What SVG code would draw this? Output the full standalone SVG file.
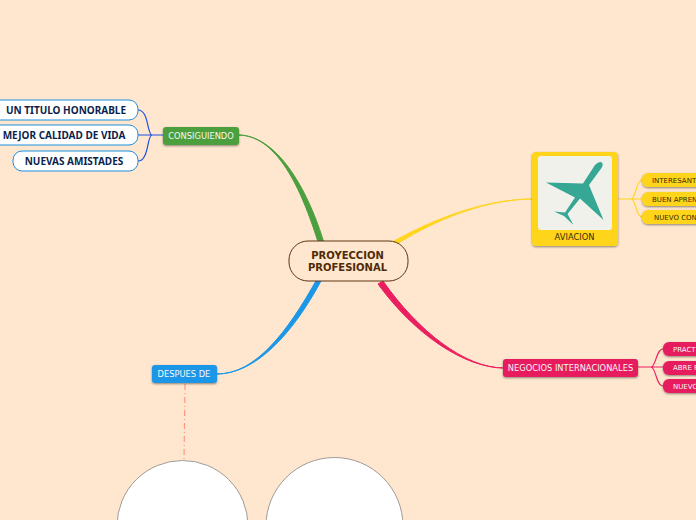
<svg xmlns="http://www.w3.org/2000/svg" width="696" height="520" viewBox="0 0 696 520">
<style>
.m{font-family:"DejaVu Sans",sans-serif;font-size:8.300px;text-anchor:middle}
.w{fill:#f6f6f6}
.s{font-size:7px;fill:#3a2a00;text-anchor:start}
.p{font-size:7px;fill:#f6f6f6;text-anchor:start}
.l{font-family:"Noto Sans",sans-serif;font-weight:700;font-size:10px;fill:#0b1f4d;text-anchor:middle}
.cn{font-family:"DejaVu Sans",sans-serif;font-weight:700;font-size:10px;fill:#4f2a06;text-anchor:middle}
.lf{fill:#fff;stroke:#1a8fe0;stroke-width:1}
.t{fill:none;stroke-width:1.200}
.b{stroke-width:1;stroke-linejoin:round}
</style>
<defs><filter id="sh" x="-10%" y="-15%" width="120%" height="140%"><feDropShadow dx="0" dy="1" stdDeviation="0.8" flood-color="#000" flood-opacity=".45"/></filter></defs>
<rect width="696" height="520" fill="#ffe7cf"/>
<g id="connectors">
<path class="b" d="M324 243C310 196 280 136 239 135C280 136 304 197 319 245Z" fill="#4b9f3e" stroke="#4b9f3e"/>
<path class="b" d="M397 244C440 217 490 199 533 199C490 199 441 215 394 241Z" fill="#ffd51e" stroke="#ffd51e"/>
<path class="b" d="M383 281C418 331 465 368 504 368C465 368 415 335 378 284Z" fill="#eb1f60" stroke="#eb1f60"/>
<path class="b" d="M321 281C292 335 255 374 217 374C255 374 287 333 317 279Z" fill="#1b97e8" stroke="#1b97e8"/>
<path class="t" stroke="#1f4fe0" d="M163 135H138M152 135C147 135 149 110 138 110M152 135C147 135 149 161 138 161"/>
<path class="t" stroke="#ffd51e" d="M618 199H641M631 199C636 199 636 180 642 180M631 199C636 199 636 217 642 217"/>
<path class="t" stroke="#eb1f60" d="M638 367H663M651 367C656 367 656 349 663 349M651 367C656 367 656 386 663 386"/>
<path d="M185 384L184 461" stroke="#ff9684" stroke-width="1.200" stroke-dasharray="6 3 1 3" fill="none"/>
</g>
<g id="n-central"><rect x="289" y="241" width="119" height="40" rx="19" fill="#ffe7cf" stroke="#5c3310" stroke-width="1"/><text class="cn" x="347.500" y="259">PROYECCION</text><text class="cn" x="347.500" y="271">PROFESIONAL</text></g>
<g id="n-consiguiendo"><rect x="163" y="127" width="76" height="18" rx="3" fill="#4b9f3e" filter="url(#sh)"/><text class="m w" x="201" y="139">CONSIGUIENDO</text></g>
<g id="n-titulo"><rect x="-10" y="100" width="148" height="20" rx="9" class="lf"/><text class="l" x="66" y="114">UN TITULO HONORABLE</text></g>
<g id="n-calidad"><rect x="-10" y="125" width="148" height="20" rx="9" class="lf"/><text class="l" x="64" y="139">MEJOR CALIDAD DE VIDA</text></g>
<g id="n-amistades"><rect x="13" y="151" width="125" height="20" rx="9" class="lf"/><text class="l" x="74" y="165">NUEVAS AMISTADES</text></g>
<g id="n-aviacion"><rect x="532" y="152" width="86" height="94" rx="4" fill="#ffd51e" filter="url(#sh)"/><rect x="538" y="156" width="74" height="74" rx="3" fill="#f1f1ec"/>
<path d="M546 182.500L583 183.500L595 165Q599 161 602 162.500Q603.500 165 601.500 168L589 185L603.500 220L580 198.500L567.500 214L573.500 225L564 216L554 211.500L565 212.500L575 197.500Z" fill="#35a794"/>
<text class="m" x="574.500" y="240" fill="#3a2a00">AVIACION</text></g>
<g id="n-int"><rect x="642" y="173" width="70" height="14" rx="6" fill="#ffd51e" filter="url(#sh)"/><text class="m s" x="652" y="183">INTERESANT</text></g>
<g id="n-bue"><rect x="642" y="192" width="70" height="14" rx="6" fill="#ffd51e" filter="url(#sh)"/><text class="m s" x="652" y="201.500">BUEN APREN</text></g>
<g id="n-nue"><rect x="642" y="210" width="70" height="14" rx="6" fill="#ffd51e" filter="url(#sh)"/><text class="m s" x="654" y="220">NUEVO CON</text></g>
<g id="n-negocios"><rect x="503" y="359" width="135" height="18" rx="3" fill="#e61f5f" filter="url(#sh)"/><text class="m w" x="570.500" y="371">NEGOCIOS INTERNACIONALES</text></g>
<g id="n-pra"><rect x="663" y="342" width="60" height="14" rx="6" fill="#e61f5f" filter="url(#sh)"/><text class="m p" x="673" y="352">PRACT</text></g>
<g id="n-abr"><rect x="663" y="361" width="60" height="14" rx="6" fill="#e61f5f" filter="url(#sh)"/><text class="m p" x="673" y="370">ABRE P</text></g>
<g id="n-nuev"><rect x="663" y="379" width="60" height="14" rx="6" fill="#e61f5f" filter="url(#sh)"/><text class="m p" x="673" y="389">NUEVO</text></g>
<g id="n-despues"><rect x="152" y="365" width="65" height="18" rx="3" fill="#1b97e8" filter="url(#sh)"/><text class="m w" x="184" y="377">DESPUES DE</text></g>
<g id="n-c1"><circle cx="182.500" cy="526" r="65.500" fill="#fff" stroke="#a09a94" stroke-width="1"/></g>
<g id="n-c2"><circle cx="334.500" cy="526" r="68.500" fill="#fff" stroke="#a09a94" stroke-width="1"/></g>
</svg>
